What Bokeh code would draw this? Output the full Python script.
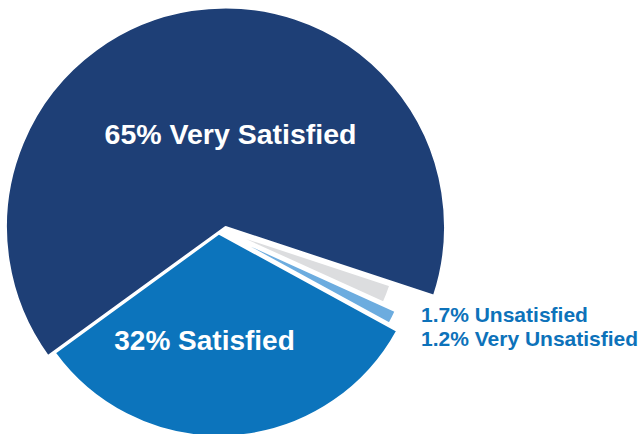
import math
from bokeh.plotting import figure
from bokeh.models import Range1d, ColumnDataSource
from bokeh.core.properties import value
from bokeh.embed import file_html
from bokeh.resources import INLINE

# ---- data ----
categories = ["Satisfied", "Very Unsatisfied", "Unsatisfied", "Very Satisfied"]
values = [32, 1.2, 1.7, 65]
labels = ["32% Satisfied", "1.2% Very Unsatisfied", "1.7% Unsatisfied", "65% Very Satisfied"]

# ---- style ----
colors = ["#0c74bc", "#6cacdf", "#dcdddf", "#1e3f76"]
radii = [203, 191.5, 176.5, 219.5]
off_x = [-3.5, -1, 0.5, 3]
off_y = [-3, -1.5, 0.5, 3.5]
line_w = [2, 2.5, 2.5, 2]
cx, cy = 222, 204
start_deg = 216

W, H = 642, 434
p = figure(width=W, height=H, output_backend="svg", toolbar_location=None,
           x_range=Range1d(0, W), y_range=Range1d(0, H), min_border=0)
p.axis.visible = False
p.grid.visible = False
p.outline_line_color = None
p.background_fill_color = "white"

total = sum(values)
starts, ends = [], []
a = math.radians(start_deg)
for v in values:
    starts.append(a)
    a += v / total * 2 * math.pi
    ends.append(a)

src = ColumnDataSource(dict(
    x=[cx + dx for dx in off_x], y=[cy + dy for dy in off_y],
    r=radii, s=starts, e=ends, c=colors, lw=line_w, cat=categories))
p.wedge(x="x", y="y", radius="r", start_angle="s", end_angle="e",
        fill_color="c", line_color="white", line_width="lw", source=src)

# inner labels (white)
p.text(x=[230], y=[300.5], text=[labels[3]], text_color="white",
       text_font=value("Liberation Sans"), text_font_style="bold",
       text_font_size="28.5px", text_align="center", text_baseline="alphabetic")
p.text(x=[204], y=[94.5], text=[labels[0]], text_color="white",
       text_font=value("Liberation Sans"), text_font_style="bold",
       text_font_size="28px", text_align="center", text_baseline="alphabetic")
# outer labels (blue)
p.text(x=[420.5, 420.5], y=[119.7, 95.7], text=[labels[2], labels[1]], text_color="#0d72ba",
       text_font=value("Liberation Sans"), text_font_style="bold",
       text_font_size="21px", text_align="left", text_baseline="alphabetic")

open("out.html", "w").write(file_html(p, INLINE))
